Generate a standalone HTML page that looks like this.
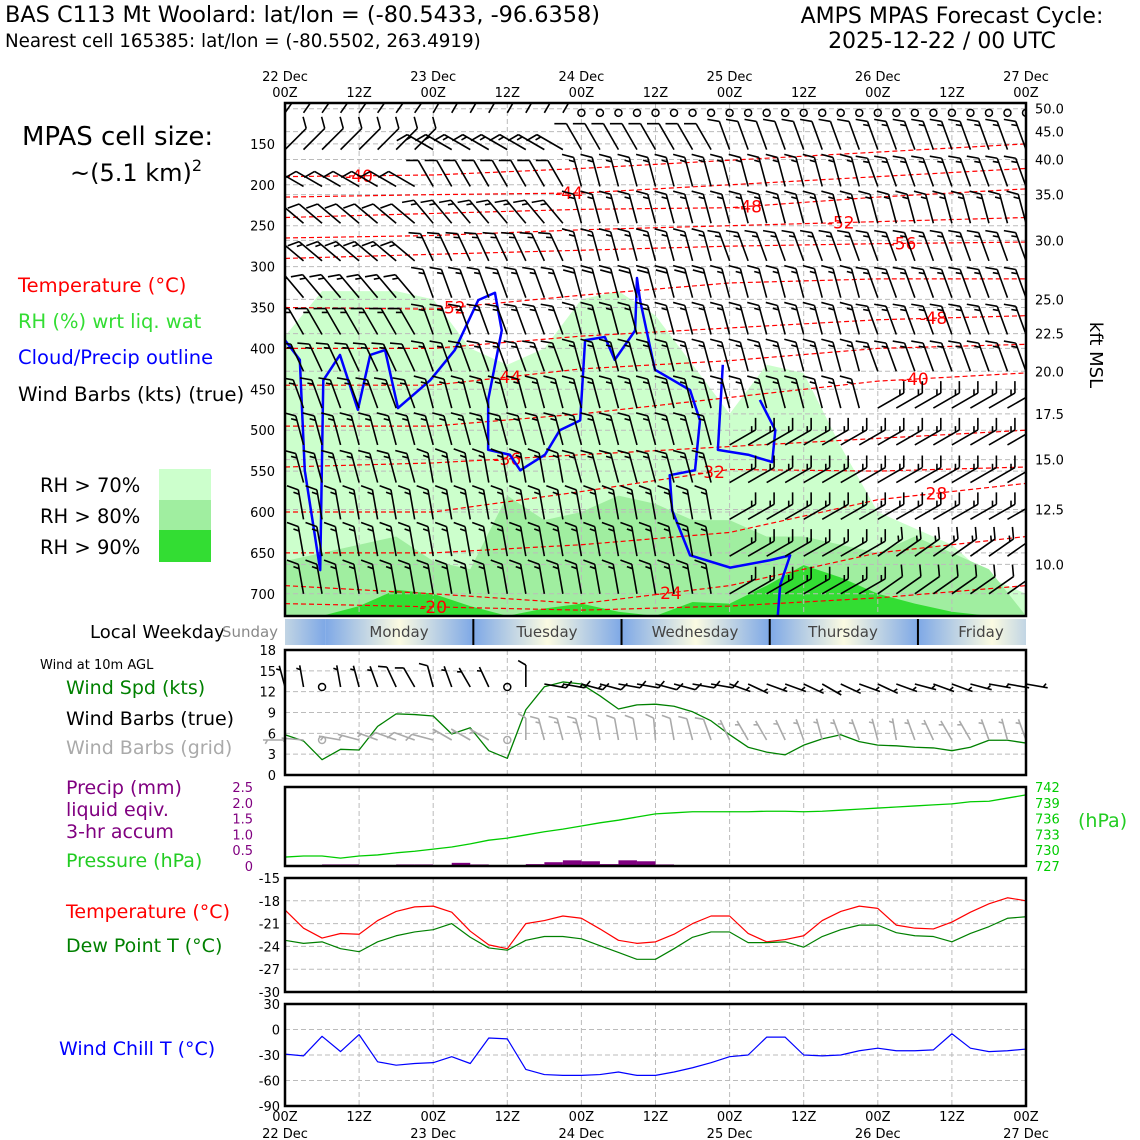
<!DOCTYPE html>
<html><head><meta charset="utf-8">
<style>
html,body{margin:0;padding:0;background:#fff;}
svg{display:block;font-family:"DejaVu Sans","Liberation Sans",sans-serif;}
</style></head>
<body>
<svg id="chart" width="1140" height="1140" viewBox="0 0 1140 1140" xmlns="http://www.w3.org/2000/svg">
<defs></defs>
<g id="static">
<text x="5" y="22" font-size="22.4">BAS C113 Mt Woolard: lat/lon = (-80.5433, -96.6358)</text>
<text x="5" y="47" font-size="18.3">Nearest cell 165385: lat/lon = (-80.5502, 263.4919)</text>
<text x="952" y="23" font-size="22" text-anchor="middle">AMPS MPAS Forecast Cycle:</text>
<text x="942" y="48" font-size="22" text-anchor="middle">2025-12-22 / 00 UTC</text>
<text x="22" y="145" font-size="26">MPAS cell size:</text>
<text x="70" y="181" font-size="24">~(5.1 km)<tspan font-size="16" dy="-10">2</tspan></text>
<text x="18" y="292" font-size="19.5" fill="#ff0000">Temperature (°C)</text>
<text x="18" y="328" font-size="19.5" fill="#33dd33">RH (%) wrt liq. wat</text>
<text x="18" y="364" font-size="19.5" fill="#0000ff">Cloud/Precip outline</text>
<text x="18" y="401" font-size="19.8">Wind Barbs (kts) (true)</text>
<rect x="159" y="469" width="52" height="31" fill="#ccffcc"/>
<rect x="159" y="500" width="52" height="30" fill="#a0eea0"/>
<rect x="159" y="530" width="52" height="32" fill="#33dd33"/>
<text x="40" y="492" font-size="19.5">RH &gt; 70%</text>
<text x="40" y="523" font-size="19.5">RH &gt; 80%</text>
<text x="40" y="554" font-size="19.5">RH &gt; 90%</text>
<text x="1090" y="355" font-size="18" transform="rotate(90 1090 355)" text-anchor="middle">kft MSL</text>
<text x="90" y="638" font-size="18">Local Weekday</text>
<text x="40" y="669" font-size="13">Wind at 10m AGL</text>
<text x="66" y="694" font-size="19" fill="#008000">Wind Spd (kts)</text>
<text x="66" y="725" font-size="19">Wind Barbs (true)</text>
<text x="66" y="754" font-size="19" fill="#aaaaaa">Wind Barbs (grid)</text>
<text x="66" y="794" font-size="19" fill="#800080">Precip (mm)</text>
<text x="66" y="816" font-size="19" fill="#800080">liquid eqiv.</text>
<text x="66" y="838" font-size="19" fill="#800080">3-hr accum</text>
<text x="66" y="867" font-size="19" fill="#22cc22">Pressure (hPa)</text>
<text x="1078" y="827" font-size="19" fill="#22cc22">(hPa)</text>
<text x="66" y="918" font-size="19" fill="#ff0000">Temperature (°C)</text>
<text x="66" y="952" font-size="19" fill="#008000">Dew Point T (°C)</text>
<text x="59" y="1055" font-size="19" fill="#0000ff">Wind Chill T (°C)</text>
</g>
<g id="dyn"></g>
</svg>
<script>
// ---------- data ----------
const hours = [0,3,6,9,12,15,18,21,24,27,30,33,36,39,42,45,48,51,54,57,60,63,66,69,72,75,78,81,84,87,90,93,96,99,102,105,108,111,114,117,120];
const tempC = [-19.2,-21.6,-22.9,-22.3,-22.4,-20.6,-19.4,-18.8,-18.7,-19.5,-22,-23.8,-24.3,-21,-20.6,-20,-20.3,-21.7,-23.2,-23.6,-23.4,-22.4,-21,-20,-20,-22.3,-23.4,-23.1,-22.6,-20.6,-19.4,-18.7,-19,-21.2,-21.6,-21.7,-20.8,-19.5,-18.4,-17.6,-18];
const dewC = [-23.2,-23.6,-23.4,-24.3,-24.7,-23.4,-22.6,-22.1,-21.8,-21,-22.8,-24.2,-24.5,-23.2,-22.7,-22.7,-23,-23.9,-24.8,-25.7,-25.7,-24.3,-22.8,-22.1,-22.1,-23.5,-23.5,-23.4,-24.1,-22.7,-21.8,-21.2,-21.2,-22.2,-22.6,-22.7,-23.4,-22.3,-21.4,-20.3,-20.1];
const windChill = [-29,-31,-8,-26,-6,-38,-42,-40,-39,-32,-40,-10,-11,-47,-53,-54,-54,-53,-50,-54,-54,-50,-45,-39,-32,-30,-9,-9,-30,-31,-30,-25,-22,-25,-25,-24,-5,-22,-26,-25,-23];
const windSpd = [5.8,4.9,2.2,3.7,3.6,7,8.8,8.7,8.5,5.9,6.8,3.5,2.4,9.4,12.7,13.4,13.1,11.4,9.5,10.1,10.2,9.9,9.1,7.8,5.8,4,3.3,2.9,4.3,5.2,5.8,4.8,4.3,4.2,4,3.9,3.5,4,5,5,4.6];
const windDirTrue = [345,350,0,350,345,340,335,330,345,340,330,335,330,0,100,100,105,105,100,100,105,105,100,100,110,115,110,110,115,120,115,110,115,110,105,110,110,105,100,100,100];
const windDirGrid = [270,275,0,280,285,290,290,290,285,300,300,300,290,0,345,345,345,350,350,350,355,350,345,340,335,330,330,335,340,345,340,340,345,350,340,335,330,330,340,345,340];
const pressHpa = [728.7,728.9,728.9,728.5,728.9,729.1,729.5,729.8,730.2,730.6,731.2,731.9,732.3,732.9,733.5,734.0,734.6,735.2,735.7,736.3,736.9,737.1,737.3,737.3,737.3,737.3,737.4,737.4,737.3,737.4,737.6,737.8,738.0,738.2,738.4,738.6,738.8,739.2,739.3,739.9,740.5];
const precipMm = [0,0,0,0.05,0.05,0,0,0.05,0.05,0,0.1,0.05,0,0,0.06,0.12,0.18,0.15,0.06,0.18,0.15,0.05,0,0,0,0,0,0,0,0,0,0,0,0,0,0,0,0,0,0,0];
// RH field: top pressure (hPa) of each RH threshold every 6 h
const rhHours = [0,6,12,18,24,30,36,42,48,54,60,66,72,78,84,90,96,102,108,114,120];
const rh70Top = [385,330,330,330,340,400,420,400,340,330,360,420,480,420,430,520,600,620,640,680,700];
const rh80Top = [660,650,640,630,660,670,580,610,600,580,590,610,610,630,630,640,650,630,650,670,727];
const rh90Top = [727,727,715,695,700,715,727,718,712,722,727,710,712,690,665,680,700,712,722,727,727];
// temperature contours: pressure at each day boundary
const contourDays = [0,24,48,72,96,120];
const contourLevels = [-20,-24,-28,-32,-36,-40,-44,-48,-52,-40,-44,-48,-52,-56];
const contourPress = [
 [712,716,720,715,705,690],[690,700,712,690,650,630],[650,650,640,625,585,565],[600,600,575,548,550,545],
 [545,540,530,520,510,500],[495,495,480,460,440,430],[445,445,425,415,400,395],[400,400,385,375,365,360],
 [350,352,335,320,315,315],[190,188,180,170,160,150],[215,212,210,200,190,180],[240,235,230,228,215,205],
 [265,262,255,250,245,240],[290,285,280,275,272,270]];
const contourLabelHour = [24,62,105,69,36,102,36,105,27,12,46,75,90,100];
// cloud outline (hour, hPa)
const cloudH = [0,2.4,3.2,5.7,6.2,8.9,11.8,13.8,16.2,18.3,23.5,27.5,31.3,34,35.1,32.9,32.9,36.4,38.1,42.1,44.5,47.8,48.6,51.8,53.4,56.7,57,57.5,59.9,65.6,67.2,66.4,62.3,62.7,65.6,72.1,78.5,81.8,80.2,79.8];
const cloudP = [390,414,549,671,439,408,475,408,402,473,439,402,341,332,378,463,524,530,549,530,500,488,390,386,414,378,314,341,426,451,488,549,555,598,653,668,659,653,689,727];
const cloud2H = [70.9,70.1,75,78.9,79.4,76.9];
const cloud2P = [420,524,530,539,500,463];
// upper-air barbs
const barbLevels = [112,157,202,247,293,338,383,428,473,518,564,609,654,700];
const barbDir = [[35,30,0,0,340],[45,300,330,340,340],[300,330,345,345,340],[310,320,345,345,345],[310,335,345,340,340],[320,340,345,345,340],[330,340,345,345,340],[335,340,345,345,340],[340,345,345,345,60],[345,345,345,60,60],[345,350,345,60,60],[350,350,350,60,60],[350,350,350,60,55],[350,350,350,60,55]];
const barbSpd = [[10,10,2,2,2],[10,15,10,10,15],[10,10,15,15,15],[10,15,15,15,15],[15,15,15,15,15],[15,15,20,15,15],[15,15,15,15,15],[15,15,15,15,15],[15,15,15,15,15],[15,15,15,15,15],[15,15,15,15,15],[15,15,15,15,15],[15,15,15,15,15],[15,15,15,15,10]];
const pTicks = [150,200,250,300,350,400,450,500,550,600,650,700];
const kftLabels = ["50.0","45.0","40.0","35.0","30.0","25.0","22.5","20.0","17.5","15.0","12.5","10.0"];
const kftP = [107,135,169,212,268,340,382,428,480,536,597,664];
const weekdays = ["Sunday","Monday","Tuesday","Wednesday","Thursday","Friday"];
const topDays = ["22 Dec","23 Dec","24 Dec","25 Dec","26 Dec","27 Dec"];

// ---------- helpers ----------
const NS="http://www.w3.org/2000/svg";
const root=document.getElementById('dyn');
function el(tag,attrs,parent){const e=document.createElementNS(NS,tag);for(const k in attrs)e.setAttribute(k,attrs[k]);(parent||root).appendChild(e);return e;}
const X0=285,X1=1026;
function X(h){return X0+h*(X1-X0)/120;}
function YP(p){return 103+(p-100)*0.818;}
function lin(v,v0,y0,v1,y1){return y0+(v-v0)*(y1-y0)/(v1-v0);}
function interp(xs,ys,x){for(let i=0;i<xs.length-1;i++){if(x<=xs[i+1])return ys[i]+(ys[i+1]-ys[i])*(x-xs[i])/(xs[i+1]-xs[i]);}return ys[ys.length-1];}

function barb(g,x,y,dir,spd,color,L){
  if(spd<2.5){const c=el('circle',{cx:x,cy:y,r:3.5,fill:'none',stroke:color,'stroke-width':1.5},g);
    
    return;}
  const r=dir*Math.PI/180, ux=Math.sin(r), uy=-Math.cos(r);
  const tx=x+ux*L, ty=y+uy*L;
  let d=`M${x},${y}L${tx},${ty}`;
  const lx=uy, ly=-ux; const F=L*0.4;
  const fx=lx*0.87+ux*0.5, fy=ly*0.87+uy*0.5;
  let s=Math.round(spd/5)*5, pos=0;
  while(s>=50){const bx=tx-ux*pos,by=ty-uy*pos;d+=`M${bx},${by}L${bx+fx*F},${by+fy*F}L${bx-ux*5},${by-uy*5}`;pos+=7;s-=50;}
  while(s>=10){const bx=tx-ux*pos,by=ty-uy*pos;d+=`M${bx},${by}L${bx+fx*F},${by+fy*F}`;pos+=4.5;s-=10;}
  if(s>=5){if(pos===0)pos=4.5;const bx=tx-ux*pos,by=ty-uy*pos;d+=`M${bx},${by}L${bx+fx*F/2},${by+fy*F/2}`;}
  const p=el('path',{d:d,stroke:color,'stroke-width':1.6,fill:'none'},g);
  
  
}
function vgrid(g,y0,y1){for(let h=12;h<120;h+=12){const l=el('line',{x1:X(h),x2:X(h),y1:y0,y2:y1,stroke:'#bbb','stroke-dasharray':'5,3','stroke-width':1},g);
  
  }}
function hgrid(g,y){const l=el('line',{x1:X0,x2:X1,y1:y,y2:y,stroke:'#bbb','stroke-dasharray':'5,3','stroke-width':1},g);
  
  }
function frame(y0,y1,name){const r=el('rect',{x:X0,y:y0,width:X1-X0,height:y1-y0,fill:'none',stroke:'#000','stroke-width':2.5});
  
  }
function txt(x,y,s,size,fill,anchor,name){const t=el('text',{x:x,y:y,'font-size':size,fill:fill||'#000','text-anchor':anchor||'start'});t.textContent=s;
  
  return t;}
function polyline(xs,ys,color,w,name,dash){const pts=xs.map((x,i)=>x+','+ys[i]).join(' ');
  const a={points:pts,fill:'none',stroke:color,'stroke-width':w,'stroke-linejoin':'round'};if(dash)a['stroke-dasharray']=dash;
  const p=el('polyline',a);
  
  return p;}

// ---------- main panel ----------
const mainG=el('g',{});


const cp=el('clipPath',{id:'mainclip'},document.querySelector('defs'));el('rect',{x:X0,y:103,width:X1-X0,height:513},cp);
mainG.setAttribute('clip-path','url(#mainclip)');
[[rh70Top,'#ccffcc','rh70-area'],[rh80Top,'#a0eea0','rh80-area'],[rh90Top,'#33dd33','rh90-area']].forEach(([arr,col,nm])=>{
  let d=`M${X(0)},${YP(727)}`;rhHours.forEach((h,i)=>{d+=`L${X(h)},${YP(arr[i])}`;});d+=`L${X(120)},${YP(727)}Z`;
  const p=el('path',{d:d,fill:col},mainG);
  
  
});
vgrid(mainG,103,616);
pTicks.forEach(p=>hgrid(mainG,YP(p)));
kftP.forEach(p=>hgrid(mainG,YP(p)));
contourLevels.forEach((lv,i)=>{
  const pts=contourDays.map((h,j)=>X(h)+','+YP(contourPress[i][j])).join(' ');
  const pl=el('polyline',{points:pts,fill:'none',stroke:'#ff0000','stroke-width':1.2,'stroke-dasharray':'5,3'},mainG);
  
  
  const lh=contourLabelHour[i];
  const t=el('text',{x:X(lh),y:YP(interp(contourDays,contourPress[i],lh))+6,'font-size':17,fill:'#ff0000','text-anchor':'middle'},mainG);
  t.textContent=String(lv);
  
  
});
[[cloudH,cloudP],[cloud2H,cloud2P]].forEach(([hs,ps])=>{
  const pts=hs.map((h,i)=>X(h)+','+YP(ps[i])).join(' ');
  const pl=el('polyline',{points:pts,fill:'none',stroke:'#0000ff','stroke-width':2.5,'stroke-linejoin':'round'},mainG);
  
  
});
barbLevels.forEach((p,r)=>{hours.forEach(h=>{const di=Math.min(4,Math.floor(h/24));barb(mainG,X(h),YP(p),barbDir[r][di],barbSpd[r][di],'#000',30);});});
frame(103,616,'upper-air-frame');
pTicks.forEach(p=>txt(275,YP(p)+5,String(p),13,'#000','end','pressure-tick-label'));
kftLabels.forEach((s,i)=>txt(1035,YP(kftP[i])+5,s,13,'#000','start','kft-tick-label'));
topDays.forEach((s,i)=>{txt(X(i*24),81,s,13,'#000','middle','top-date-label');txt(X(i*24),97,'00Z',13,'#000','middle','top-time-label');
  if(i<5)txt(X(i*24+12),97,'12Z',13,'#000','middle','top-time-label');});

// ---------- weekday bar ----------
const defs=document.querySelector('defs');
const bounds=[6.5,30.5,54.5,78.5,102.5];
const wcp=el('clipPath',{id:'wclip'},defs);el('rect',{x:X0,y:619,width:X1-X0,height:26},wcp);
const wg=el('g',{'clip-path':'url(#wclip)'});


[-17.5].concat(bounds).forEach((b,i)=>{
  const gid='wd'+i;const lg=el('linearGradient',{id:gid,gradientUnits:'userSpaceOnUse',x1:X(b),x2:X(b+24),y1:0,y2:0},defs);
  el('stop',{offset:0,'stop-color':'#7ea8e6'},lg);el('stop',{offset:0.5,'stop-color':'#fbfbe2'},lg);el('stop',{offset:1,'stop-color':'#7ea8e6'},lg);
  const r=el('rect',{x:X(b),y:619,width:X(b+24)-X(b),height:26,fill:`url(#${gid})`},wg);
  
  
});
bounds.slice(1).forEach(b=>{const l=el('line',{x1:X(b),x2:X(b),y1:619,y2:645,stroke:'#000','stroke-width':2},wg);
  
  });
const wdx=[250,399,547,695,843,981];
weekdays.forEach((d,i)=>txt(wdx[i],637,d,15,i===0?'#888':'#444','middle','weekday-label'));

// ---------- wind panel ----------
const wY=v=>lin(v,0,775,18,650);
vgrid(root,650,775);[3,6,9,12,15].forEach(v=>hgrid(root,wY(v)));
polyline(hours.map(X),windSpd.map(wY),'#008000',1.3,'wind-speed-line');
const wbG=el('g',{});


hours.forEach((h,i)=>{barb(wbG,X(h),740,windDirGrid[i],windSpd[i],'#aaaaaa',22);barb(wbG,X(h),i>=14?684:687,windDirTrue[i],windSpd[i],'#000',22);});
frame(650,775,'wind-panel-frame');
[0,3,6,9,12,15,18].forEach(v=>txt(276,wY(v)+5,String(v),13,'#000','end','wind-tick-label'));

// ---------- precip / pressure panel ----------
const prY=v=>lin(v,0,866,2.5,787);
const psY=v=>lin(v,727,866,742,787);
vgrid(root,787,866);
hours.forEach((h,i)=>{if(precipMm[i]>0){const r=el('rect',{x:X(h-3),y:prY(precipMm[i]),width:X(h)-X(h-3),height:866-prY(precipMm[i]),fill:'#800080'});
  
  }});
polyline(hours.map(X),pressHpa.map(psY),'#00cc00',1.3,'pressure-line');
frame(787,866,'precip-panel-frame');
[0,0.5,1,1.5,2,2.5].forEach(v=>txt(253,prY(v)+5,String(v===0?'0':v.toFixed(1)),13,'#800080','end','precip-tick-label'));
[727,730,733,736,739,742].forEach(v=>txt(1035,psY(v)+5,String(v),13,'#00cc00','start','pressure-tick-label'));

// ---------- temperature panel ----------
const tY=v=>lin(v,-15,878,-30,992);
vgrid(root,878,992);[-18,-21,-24,-27].forEach(v=>hgrid(root,tY(v)));
polyline(hours.map(X),tempC.map(tY),'#ff0000',1.2,'temperature-line');
polyline(hours.map(X),dewC.map(tY),'#008000',1.2,'dewpoint-line');
frame(878,992,'temperature-panel-frame');
[-15,-18,-21,-24,-27,-30].forEach(v=>txt(280,tY(v)+5,String(v),13,'#000','end','temperature-tick-label'));

// ---------- wind chill panel ----------
const cY=v=>lin(v,30,1004,-90,1106);
vgrid(root,1004,1106);[0,-30,-60].forEach(v=>hgrid(root,cY(v)));
polyline(hours.map(X),windChill.map(cY),'#0000ff',1.2,'windchill-line');
frame(1004,1106,'windchill-panel-frame');
[30,0,-30,-60,-90].forEach(v=>txt(280,cY(v)+5,String(v),13,'#000','end','windchill-tick-label'));
topDays.forEach((s,i)=>{txt(X(i*24),1121,'00Z',13,'#000','middle','bottom-time-label');txt(X(i*24),1138,s,13,'#000','middle','bottom-date-label');
  if(i<5)txt(X(i*24+12),1121,'12Z',13,'#000','middle','bottom-time-label');});
</script>
</body></html>
